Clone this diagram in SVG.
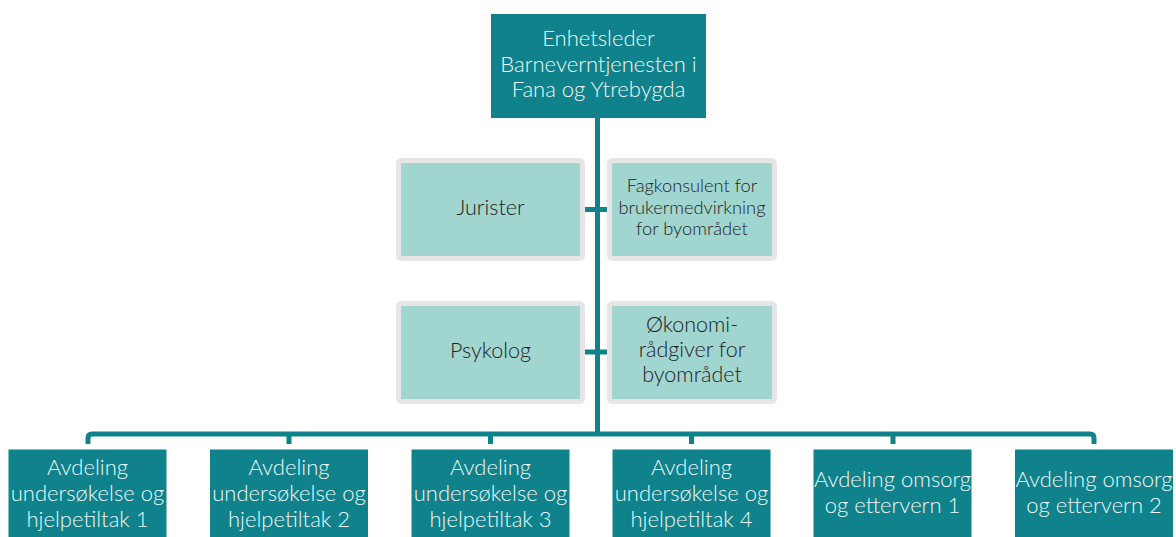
<svg xmlns="http://www.w3.org/2000/svg" width="1176" height="537" viewBox="0 0 1176 537">
<style>
.dark{fill:#0f828b}
.light{fill:#a1d5d0;stroke:#e6e6e6;stroke-width:5}
.wt{fill:#eef8f8;font-family:Lato,"Open Sans",sans-serif;font-weight:300;font-size:22px;text-anchor:middle}
.dt{fill:#222;font-family:Lato,"Open Sans",sans-serif;font-weight:300;font-size:21.5px;text-anchor:middle}
.con{stroke:#0f828b;stroke-width:5;fill:none}
</style>
<rect width="1176" height="537" fill="#fff"/>
<g id="connectors">
<line class="con" x1="597.5" y1="118" x2="597.5" y2="434"/>
<line class="con" x1="584" y1="209.5" x2="608" y2="209.5"/>
<line class="con" x1="584" y1="352" x2="608" y2="352"/>
<path class="con" d="M88 444 V438 Q88 434 92 434 H1090 Q1094 434 1094 438 V444"/>
<line class="con" x1="289" y1="434" x2="289" y2="444"/>
<line class="con" x1="490.5" y1="434" x2="490.5" y2="444"/>
<line class="con" x1="691.5" y1="434" x2="691.5" y2="444"/>
<line class="con" x1="893" y1="434" x2="893" y2="444"/>
</g>
<g id="enhetsleder">
<rect class="dark" x="491" y="14" width="215" height="104"/>
<text class="wt"><tspan x="598.5" y="46">Enhetsleder</tspan><tspan x="598.5" y="71.5">Barneverntjenesten i</tspan><tspan x="598.5" y="97">Fana og Ytrebygda</tspan></text>
</g>
<g id="jurister">
<rect class="light" x="398.5" y="160.5" width="184" height="98" rx="3"/>
<text class="dt" x="490.5" y="215">Jurister</text>
</g>
<g id="fagkonsulent">
<rect class="light" x="609.5" y="160.5" width="165" height="98" rx="3"/>
<text class="dt" style="font-size:18.3px"><tspan x="692" y="192">Fagkonsulent for</tspan><tspan x="692" y="213.5">brukermedvirkning</tspan><tspan x="692" y="235">for byområdet</tspan></text>
</g>
<g id="psykolog">
<rect class="light" x="398.5" y="303.5" width="184" height="98" rx="3"/>
<text class="dt" x="490.5" y="358">Psykolog</text>
</g>
<g id="okonomi">
<rect class="light" x="609.5" y="303.5" width="165" height="98" rx="3"/>
<text class="dt"><tspan x="692" y="332">Økonomi-</tspan><tspan x="692" y="357">rådgiver for</tspan><tspan x="692" y="382">byområdet</tspan></text>
</g>
<g id="avd1">
<rect class="dark" x="8.5" y="449.5" width="158" height="100"/>
<text class="wt"><tspan x="87.5" y="475">Avdeling</tspan><tspan x="87.5" y="501">undersøkelse og</tspan><tspan x="87.5" y="527">hjelpetiltak 1</tspan></text>
</g>
<g id="avd2">
<rect class="dark" x="210" y="449.5" width="158" height="100"/>
<text class="wt"><tspan x="289" y="475">Avdeling</tspan><tspan x="289" y="501">undersøkelse og</tspan><tspan x="289" y="527">hjelpetiltak 2</tspan></text>
</g>
<g id="avd3">
<rect class="dark" x="411.5" y="449.5" width="158" height="100"/>
<text class="wt"><tspan x="490.5" y="475">Avdeling</tspan><tspan x="490.5" y="501">undersøkelse og</tspan><tspan x="490.5" y="527">hjelpetiltak 3</tspan></text>
</g>
<g id="avd4">
<rect class="dark" x="612.5" y="449.5" width="158" height="100"/>
<text class="wt"><tspan x="691.5" y="475">Avdeling</tspan><tspan x="691.5" y="501">undersøkelse og</tspan><tspan x="691.5" y="527">hjelpetiltak 4</tspan></text>
</g>
<g id="avd5">
<rect class="dark" x="813.5" y="449.5" width="158" height="100"/>
<text class="wt"><tspan x="892.5" y="487">Avdeling omsorg</tspan><tspan x="892.5" y="513">og ettervern 1</tspan></text>
</g>
<g id="avd6">
<rect class="dark" x="1015" y="449.5" width="158" height="100"/>
<text class="wt"><tspan x="1094" y="487">Avdeling omsorg</tspan><tspan x="1094" y="513">og ettervern 2</tspan></text>
</g>
</svg>
